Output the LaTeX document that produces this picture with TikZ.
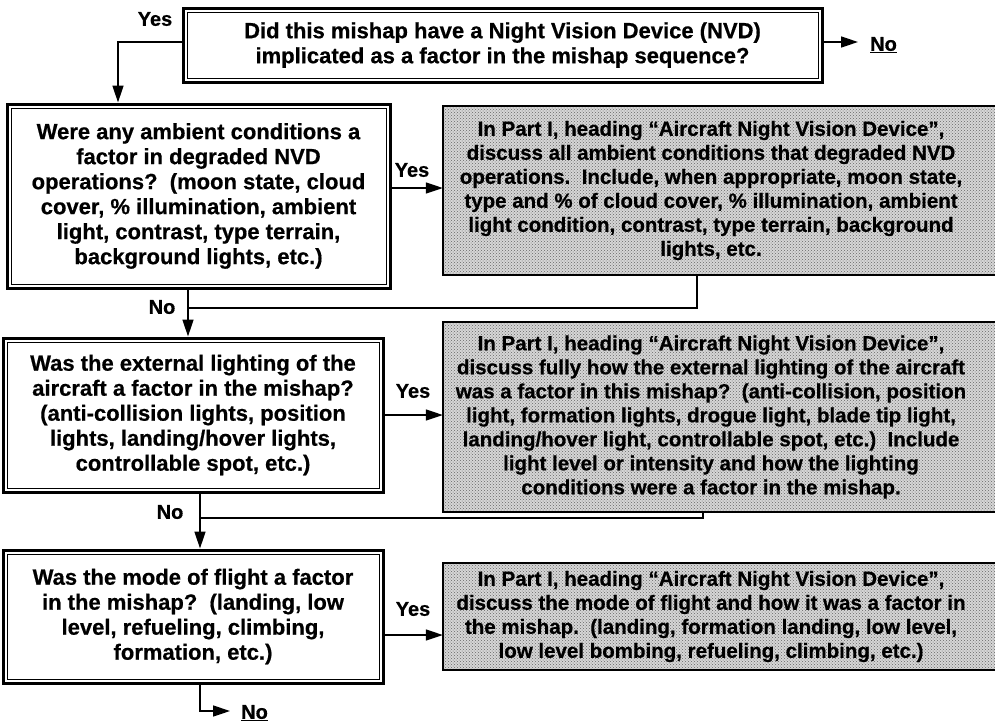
\documentclass[tikz,border=0pt]{standalone}
\usepackage{fontspec}
\setmainfont{Liberation Sans}[BoldFeatures={FakeBold=0.6}]
\usetikzlibrary{arrows.meta,patterns,backgrounds}
\newcommand\myqfont{\fontsize{22}{25}\selectfont\bfseries}
\newcommand\mygfont{\fontsize{20.5}{24}\selectfont\bfseries}
\newcommand\mylfont{\fontsize{20}{24}\selectfont\bfseries}
\begin{document}
\begin{tikzpicture}[x=1pt,y=-1pt,
  qbox/.style={draw,line width=3pt,inner sep=0pt,align=center,font=\myqfont,
    path picture={\draw[line width=0.8pt]
      ([shift={(4pt,-4pt)}]path picture bounding box.north west) rectangle
      ([shift={(-4pt,4pt)}]path picture bounding box.south east);}},
  gbox/.style={inner sep=0pt,align=center,font=\mygfont},
  gfill/.style={fill=black!16,postaction={pattern=crosshatch dots,pattern color=black!60}},
  gline/.style={line width=2.5pt},
  arr/.style={line width=1.5pt,-{Triangle[length=17pt,width=11pt]}},
  ln/.style={line width=1.5pt},
  lbl/.style={font=\mylfont,inner sep=0pt}
]
\useasboundingbox (0,0) rectangle (995,726);
\coordinate (re) at (995,0);

% question boxes
\node[qbox,minimum width=639,minimum height=74] (T) at (502.5,45)
  {Did this mishap have a Night Vision Device (NVD)\\implicated as a factor in the mishap sequence?};
\node[qbox,minimum width=383,minimum height=184] (Q1) at (198.5,196)
  {Were any ambient conditions a\\factor in degraded NVD\\operations?\ \ (moon state, cloud\\cover, \% illumination, ambient\\light, contrast, type terrain,\\background lights, etc.)};
\node[qbox,minimum width=380,minimum height=154] (Q2) at (193,415)
  {Was the external lighting of the\\aircraft a factor in the mishap?\\(anti-collision lights, position\\lights, landing/hover lights,\\controllable spot, etc.)};
\node[qbox,minimum width=380,minimum height=133] (Q3) at (193,616.5)
  {Was the mode of flight a factor\\in the mishap?\ \ (landing, low\\level, refueling, climbing,\\formation, etc.)};

% gray answer boxes
\node[gbox,minimum width=536,minimum height=169] (G1) at (711,190.5)
  {In Part I, heading “Aircraft Night Vision Device”,\\discuss all ambient conditions that degraded NVD\\operations.\ \ Include, when appropriate, moon state,\\type and \% of cloud cover, \% illumination, ambient\\light condition, contrast, type terrain, background\\lights, etc.};
\node[gbox,minimum width=536,minimum height=190] (G2) at (711,417)
  {In Part I, heading “Aircraft Night Vision Device”,\\discuss fully how the external lighting of the aircraft\\was a factor in this mishap?\ \ (anti-collision, position\\light, formation lights, drogue light, blade tip light,\\landing/hover light, controllable spot, etc.)\ \ Include\\light level or intensity and how the lighting\\conditions were a factor in the mishap.};
\node[gbox,minimum width=536,minimum height=107] (G3) at (711,616.5)
  {In Part I, heading “Aircraft Night Vision Device”,\\discuss the mode of flight and how it was a factor in\\the mishap.\ \ (landing, formation landing, low level,\\low level bombing, refueling, climbing, etc.)};

\begin{scope}[on background layer]
  \fill[white] (0,0) rectangle (995,726);
  \foreach \g in {G1,G2,G3}{
    \fill[gfill] (\g.north west) rectangle (\g.south -| re);
  }
\end{scope}
\foreach \g in {G1,G2,G3}{
  \draw[gline] (\g.north -| re) -- (\g.north west) -- (\g.south west) -- (\g.south -| re);
}

% helper coordinates
\coordinate (yT) at (0,42);
\coordinate (xA) at (118,0);
\coordinate (nT) at (858,42);
\coordinate (y1) at (0,188);
\coordinate (y2) at (0,415);
\coordinate (y3) at (0,635);
\coordinate (x1) at (188,0);
\coordinate (x2) at (200,0);
\coordinate (j1) at (697,308);
\coordinate (j2) at (703,518);
\coordinate (nB) at (230,711);

% connectors
\draw[arr] (T.west |- yT) -| (xA |- Q1.north);
\draw[arr] (T.east |- yT) -- (nT);
\draw[arr] (Q1.east |- y1) -- (G1.west |- y1);
\draw[arr] (Q2.east |- y2) -- (G2.west |- y2);
\draw[arr] (Q3.east |- y3) -- (G3.west |- y3);
\draw[arr] (x1 |- Q1.south) -- (x1 |- Q2.north);
\draw[arr] (x2 |- Q2.south) -- (x2 |- Q3.north);
\draw[arr] (x2 |- Q3.south) |- (nB);
\draw[ln] (j1 |- G1.south) -- (j1) -- (x1 |- j1);
\draw[ln] (j2 |- G2.south) -- (j2) -- (x2 |- j2);

% labels
\node[lbl] (yesT) at (155,19) {Yes};
\node[lbl,anchor=west] (noT) at (870,45) {\underline{No}};
\node[lbl] (yes1) at (412,170) {Yes};
\node[lbl] (no1) at (162,307) {No};
\node[lbl] (yes2) at (413,391) {Yes};
\node[lbl] (no2) at (170,512) {No};
\node[lbl] (yes3) at (413,609) {Yes};
\node[lbl,anchor=west] (noB) at (241,713) {\underline{No}};
\end{tikzpicture}
\end{document}
